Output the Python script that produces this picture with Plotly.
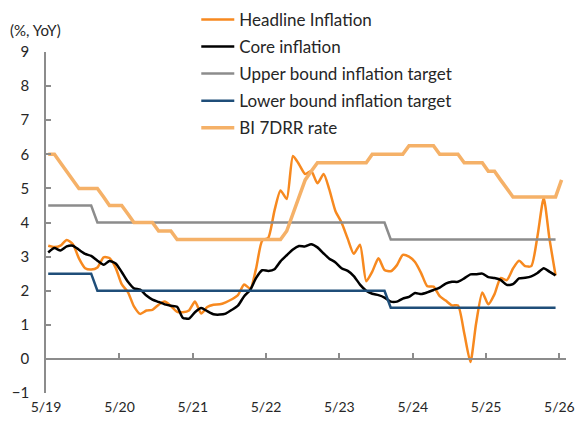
import pandas as pd
import plotly.graph_objects as go

# Monthly observations, May 2019 onward
months = pd.date_range("2019-05-01", periods=85, freq="MS") + pd.Timedelta(days=11)

headline = [
    3.32, 3.28, 3.32, 3.49, 3.36, 2.95, 2.66, 2.62,
    2.68, 2.98, 2.96, 2.67, 2.19, 1.96, 1.54, 1.32, 1.42, 1.44, 1.59, 1.68,
    1.55, 1.38, 1.37, 1.42, 1.68, 1.33, 1.52, 1.59, 1.60, 1.66, 1.75, 1.87,
    2.18, 2.06, 2.64, 3.47, 3.55, 4.35, 4.94, 4.69, 5.95, 5.71, 5.42, 5.51,
    5.15, 5.42, 4.97, 4.33, 4.00, 3.52, 3.08, 3.35, 2.28, 2.56, 2.95, 2.61,
    2.57, 2.75, 3.05, 3.00, 2.84, 2.51, 2.13, 2.12, 1.84, 1.71, 1.57, 1.57,
    0.76, -0.09, 1.03, 1.95, 1.60, 1.90, 2.37, 2.31, 2.65, 2.88, 2.72, 2.72,
    3.60, 4.72, 3.55, 2.45,
]

core = [
    3.12, 3.25, 3.18, 3.30, 3.32, 3.20, 3.08, 3.02,
    2.88, 2.76, 2.87, 2.80, 2.55, 2.26, 2.07, 2.03, 1.86, 1.74, 1.67, 1.60,
    1.56, 1.53, 1.21, 1.18, 1.37, 1.49, 1.40, 1.31, 1.30, 1.33, 1.44, 1.56,
    1.84, 2.03, 2.37, 2.60, 2.58, 2.63, 2.86, 3.04, 3.21, 3.31, 3.30, 3.36,
    3.27, 3.09, 2.94, 2.83, 2.66, 2.58, 2.43, 2.18, 2.00, 1.91, 1.87, 1.80,
    1.68, 1.68, 1.77, 1.82, 1.93, 1.90, 1.95, 2.02, 2.09, 2.21, 2.26, 2.26,
    2.36, 2.48, 2.48, 2.50, 2.40, 2.37, 2.32, 2.17, 2.19, 2.36, 2.38, 2.42,
    2.52, 2.66, 2.56, 2.45,
]

upper_bound = [
    4.5, 4.5, 4.5, 4.5, 4.5, 4.5, 4.5, 4.5,
    4.0, 4.0, 4.0, 4.0, 4.0, 4.0, 4.0, 4.0, 4.0, 4.0, 4.0, 4.0,
    4.0, 4.0, 4.0, 4.0, 4.0, 4.0, 4.0, 4.0, 4.0, 4.0, 4.0, 4.0,
    4.0, 4.0, 4.0, 4.0, 4.0, 4.0, 4.0, 4.0, 4.0, 4.0, 4.0, 4.0,
    4.0, 4.0, 4.0, 4.0, 4.0, 4.0, 4.0, 4.0, 4.0, 4.0, 4.0, 4.0,
    3.5, 3.5, 3.5, 3.5, 3.5, 3.5, 3.5, 3.5, 3.5, 3.5, 3.5, 3.5,
    3.5, 3.5, 3.5, 3.5, 3.5, 3.5, 3.5, 3.5, 3.5, 3.5, 3.5, 3.5,
    3.5, 3.5, 3.5, 3.5,
]

lower_bound = [
    2.5, 2.5, 2.5, 2.5, 2.5, 2.5, 2.5, 2.5,
    2.0, 2.0, 2.0, 2.0, 2.0, 2.0, 2.0, 2.0, 2.0, 2.0, 2.0, 2.0,
    2.0, 2.0, 2.0, 2.0, 2.0, 2.0, 2.0, 2.0, 2.0, 2.0, 2.0, 2.0,
    2.0, 2.0, 2.0, 2.0, 2.0, 2.0, 2.0, 2.0, 2.0, 2.0, 2.0, 2.0,
    2.0, 2.0, 2.0, 2.0, 2.0, 2.0, 2.0, 2.0, 2.0, 2.0, 2.0, 2.0,
    1.5, 1.5, 1.5, 1.5, 1.5, 1.5, 1.5, 1.5, 1.5, 1.5, 1.5, 1.5,
    1.5, 1.5, 1.5, 1.5, 1.5, 1.5, 1.5, 1.5, 1.5, 1.5, 1.5, 1.5,
    1.5, 1.5, 1.5, 1.5,
]

bi_rate = [
    6.00, 6.00, 5.75, 5.50, 5.25, 5.00, 5.00, 5.00,
    5.00, 4.75, 4.50, 4.50, 4.50, 4.25, 4.00, 4.00, 4.00, 4.00, 3.75, 3.75,
    3.75, 3.50, 3.50, 3.50, 3.50, 3.50, 3.50, 3.50, 3.50, 3.50, 3.50, 3.50,
    3.50, 3.50, 3.50, 3.50, 3.50, 3.50, 3.50, 3.75, 4.25, 4.75, 5.25, 5.50,
    5.75, 5.75, 5.75, 5.75, 5.75, 5.75, 5.75, 5.75, 5.75, 6.00, 6.00, 6.00,
    6.00, 6.00, 6.00, 6.25, 6.25, 6.25, 6.25, 6.25, 6.00, 6.00, 6.00, 6.00,
    5.75, 5.75, 5.75, 5.75, 5.50, 5.50, 5.25, 5.00, 4.75, 4.75, 4.75, 4.75,
    4.75, 4.75, 4.75, 4.75, 5.25,
]

tick_dates = ["2019-05-01", "2020-05-01", "2021-05-01", "2022-05-01",
              "2023-05-01", "2024-05-01", "2025-05-01", "2026-05-01"]
tick_labels = ["5/19", "5/20", "5/21", "5/22", "5/23", "5/24", "5/25", "5/26"]

FONT = "Lato, 'Open Sans', sans-serif"
TXT = "#262626"
AXIS = "#8c8c8c"

fig = go.Figure()
n = len(headline)
fig.add_trace(go.Scatter(x=months[:n], y=headline, name="Headline Inflation", mode="lines",
                         legendgroup="a",
                         line=dict(color="#F7891F", width=2.5, shape="spline", smoothing=0.6)))
fig.add_trace(go.Scatter(x=months[:n], y=core, name="Core inflation", mode="lines",
                         legendgroup="b",
                         line=dict(color="#000000", width=2.5, shape="spline", smoothing=0.6)))
fig.add_trace(go.Scatter(x=months[:n], y=upper_bound, name="Upper bound inflation target", mode="lines",
                         legendgroup="c",
                         line=dict(color="#8C8C8C", width=2.5)))
fig.add_trace(go.Scatter(x=months[:n], y=lower_bound, name="Lower bound inflation target", mode="lines",
                         legendgroup="d",
                         line=dict(color="#1F4E79", width=2.5)))
fig.add_trace(go.Scatter(x=months, y=bi_rate, name="BI 7DRR rate", mode="lines",
                         legendgroup="e",
                         line=dict(color="#F5B168", width=3.5)))

fig.update_layout(
    width=579, height=421,
    margin=dict(l=46, r=13, t=52, b=28, autoexpand=False),
    plot_bgcolor="white", paper_bgcolor="white",
    font=dict(family=FONT, size=15, color=TXT),
    showlegend=True,
    legend=dict(x=0.289, y=1.147, xanchor="left", yanchor="top",
                bgcolor="rgba(0,0,0,0)", font=dict(size=17, color=TXT),
                itemwidth=33, tracegroupgap=2),
    xaxis=dict(
        type="date", range=["2019-05-01", "2026-06-03"],
        tickvals=tick_dates, ticktext=tick_labels,
        anchor="free", position=0.1,
        showline=True, linecolor=AXIS, linewidth=1.5,
        ticks="inside", ticklen=5, tickcolor=AXIS, tickwidth=1.5,
        ticklabelstandoff=36,
        showgrid=False, zeroline=False,
        tickfont=dict(size=14, color=TXT),
    ),
    yaxis=dict(
        range=[-1, 9], dtick=1, tick0=0,
        showline=True, linecolor=AXIS, linewidth=1.5,
        ticks="inside", ticklen=5, tickcolor=AXIS, tickwidth=1.5,
        ticklabelstandoff=12,
        showgrid=False, zeroline=False,
        tickfont=dict(size=15, color=TXT),
    ),
    annotations=[dict(text="(%, YoY)", xref="paper", yref="paper",
                      x=-0.021, y=1.064, xanchor="center", yanchor="middle",
                      showarrow=False, font=dict(size=15, color=TXT))],
)

# remove the browser's default 8px body margin so the figure fills the window exactly
fig.write_html("out.html", config={"displayModeBar": False},
               post_script="document.body.style.margin='0px';")
